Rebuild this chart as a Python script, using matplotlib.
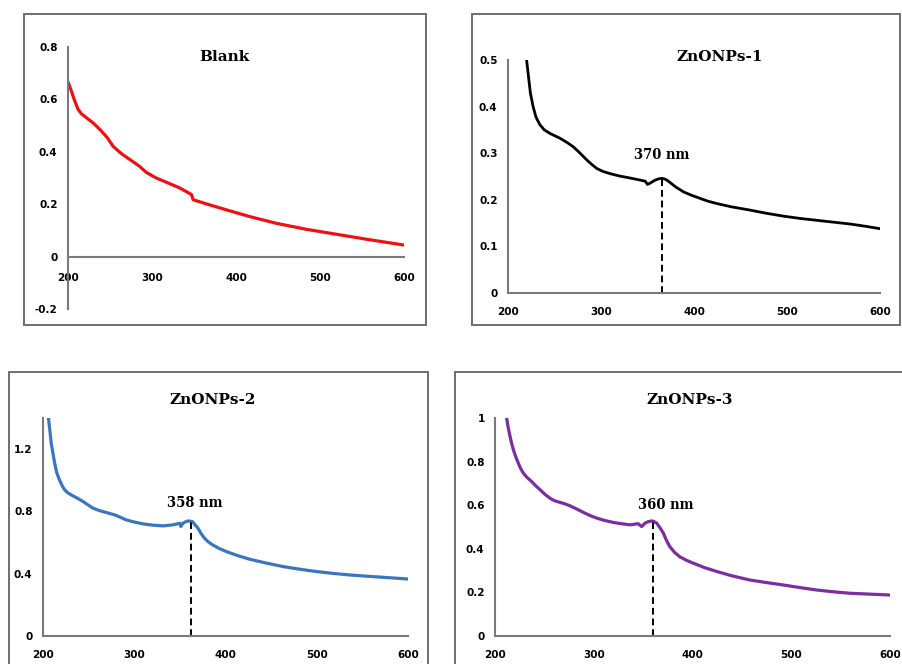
import matplotlib
matplotlib.use("Agg")
import matplotlib.pyplot as plt
from matplotlib.patches import Rectangle

# ---------------- data ----------------
blank_x = [200, 204, 208, 212, 216, 222, 230, 238, 246, 254, 264, 273, 285, 293, 305, 317, 333, 347,
           349, 365, 389, 416, 448, 484, 520, 556, 600]
blank_y = [0.667, 0.632, 0.594, 0.562, 0.545, 0.530, 0.510, 0.485, 0.457, 0.420, 0.392, 0.372, 0.345,
           0.322, 0.300, 0.284, 0.262, 0.237, 0.217, 0.201, 0.178, 0.153, 0.127, 0.104, 0.085, 0.066, 0.044]

zn1_x = [220, 222, 224, 227, 230, 234, 239, 245.5, 256, 265, 270, 276, 285, 290, 295.6, 302, 310, 320,
         328, 338, 347.5, 350, 353, 358, 362, 365.4, 368, 371, 375, 380, 388.7, 397, 406.6, 415, 424.5,
         440, 460, 478, 496, 514, 532, 550, 568, 585, 600]
zn1_y = [0.500, 0.465, 0.430, 0.400, 0.378, 0.362, 0.350, 0.342, 0.332, 0.321, 0.314, 0.303, 0.285,
         0.276, 0.267, 0.261, 0.256, 0.251, 0.248, 0.244, 0.240, 0.233, 0.236, 0.242, 0.245, 0.246,
         0.245, 0.242, 0.236, 0.228, 0.217, 0.210, 0.203, 0.197, 0.192, 0.185, 0.178, 0.171, 0.165,
         0.160, 0.156, 0.152, 0.148, 0.143, 0.138]

zn2_x = [206, 207.5, 209, 211, 212.8, 215, 218, 221, 223.7, 227, 231, 237, 243.8, 249, 254.8, 262,
         269.4, 278.5, 285, 291, 300, 309.6, 320, 331.5, 342.5, 350, 351, 353.4, 356, 359, 363.7, 366.5,
         369.9, 373, 377, 381, 386, 393, 401, 413, 426.5, 445, 463, 480, 499.5, 518, 536, 555, 572.6, 600]
zn2_y = [1.399, 1.320, 1.239, 1.170, 1.110, 1.050, 1.003, 0.965, 0.939, 0.920, 0.906, 0.887, 0.864,
         0.843, 0.821, 0.805, 0.793, 0.778, 0.762, 0.746, 0.732, 0.720, 0.712, 0.707, 0.714, 0.724,
         0.703, 0.724, 0.733, 0.739, 0.735, 0.715, 0.692, 0.660, 0.628, 0.605, 0.585, 0.562, 0.542,
         0.517, 0.493, 0.468, 0.446, 0.430, 0.414, 0.402, 0.392, 0.384, 0.377, 0.366]

zn3_x = [211.8, 213, 214.5, 216.5, 218.6, 221, 223.6, 226, 228.7, 232.5, 237, 241, 245.6, 250.5, 255.7,
         260.5, 265.8, 271, 276, 283, 289.5, 296, 303, 311, 319.8, 328, 336.7, 345, 348.5, 352, 355,
         358.6, 361, 363.7, 367, 370.5, 373.5, 377, 382, 387, 393.5, 400.8, 412, 424.5, 440, 458, 475,
         492, 509, 525.7, 542, 559.5, 580, 600]
zn3_y = [1.000, 0.965, 0.931, 0.890, 0.855, 0.822, 0.793, 0.768, 0.747, 0.727, 0.709, 0.690, 0.671,
         0.650, 0.632, 0.620, 0.613, 0.606, 0.597, 0.582, 0.567, 0.553, 0.541, 0.530, 0.521, 0.515,
         0.510, 0.515, 0.502, 0.518, 0.524, 0.528, 0.525, 0.518, 0.497, 0.472, 0.440, 0.410, 0.383,
         0.364, 0.348, 0.334, 0.314, 0.296, 0.276, 0.257, 0.245, 0.234, 0.222, 0.211, 0.203, 0.196,
         0.192, 0.188]

titles = ["Blank", "ZnONPs-1", "ZnONPs-2", "ZnONPs-3"]
peak_labels = [None, "370 nm", "358 nm", "360 nm"]
peak_x = [None, 365.4, 362.6, 360.3]
peak_y = [None, 0.246, 0.737, 0.528]
x_ticks = [200, 300, 400, 500, 600]
y_ticks_list = [[-0.2, 0, 0.2, 0.4, 0.6, 0.8],
                [0, 0.1, 0.2, 0.3, 0.4, 0.5],
                [0, 0.4, 0.8, 1.2],
                [0, 0.2, 0.4, 0.6, 0.8, 1]]
y_tick_labels = [["-0.2", "0", "0.2", "0.4", "0.6", "0.8"],
                 ["0", "0.1", "0.2", "0.3", "0.4", "0.5"],
                 ["0", "0.4", "0.8", "1.2"],
                 ["0", "0.2", "0.4", "0.6", "0.8", "1"]]
ylims = [(-0.2, 0.8), (0, 0.5), (0, 1.4), (0, 1.0)]

series_x = [blank_x, zn1_x, zn2_x, zn3_x]
series_y = [blank_y, zn1_y, zn2_y, zn3_y]
colors = ["#ee1111", "#000000", "#3a76c0", "#7a2ea0"]

# ---------------- layout ----------------
W, H = 902, 664
fig = plt.figure(figsize=(W / 100, H / 100), dpi=100)

def px_rect(l, t, r, b):
    return [l / W, 1 - b / H, (r - l) / W, (b - t) / H]

axes_px = [(68, 47, 404, 309), (508, 60, 880, 293), (43, 418, 408, 636), (495, 418, 890, 636)]
frames_px = [(24, 14, 426, 325), (472, 14, 900, 325), (9, 372, 428, 700), (455, 372, 960, 700)]
title_pos = [(0.467, 0.962), (0.57, 1.015), (0.466, 1.083), (0.494, 1.083)]
label_pos = [None, (365.6, 0.296), (366.6, 0.854), (373.0, 0.601)]

spine_col = "#7a7a7a"
tick_font = dict(family="DejaVu Sans", weight="bold", size=7.5)

for (l, t, r, b) in frames_px:
    fig.patches.append(Rectangle((l / W, 1 - b / H), (r - l) / W, (b - t) / H,
                                 transform=fig.transFigure, fill=False,
                                 edgecolor="#6e6e6e", linewidth=1.4))

for i in range(4):
    ax = fig.add_axes(px_rect(*axes_px[i]))
    ax.plot(series_x[i], series_y[i], color=colors[i], linewidth=2.3 if i != 1 else 2.0,
            solid_joinstyle="round", solid_capstyle="round")
    ax.set_xlim(200, 600)
    ax.set_ylim(*ylims[i])
    for s in ["top", "right"]:
        ax.spines[s].set_visible(False)
    ax.spines["left"].set_color(spine_col)
    ax.spines["bottom"].set_color(spine_col)
    ax.spines["left"].set_linewidth(1.5)
    ax.spines["bottom"].set_linewidth(1.5)
    if i == 0:
        ax.spines["bottom"].set_position(("data", 0))
    ax.set_xticks(x_ticks)
    ax.set_xticklabels([str(v) for v in x_ticks], **tick_font)
    ax.set_yticks(y_ticks_list[i])
    ax.set_yticklabels(y_tick_labels[i], **tick_font)
    ax.tick_params(axis="x", length=0, pad=10 if i != 0 else 12)
    ax.tick_params(axis="y", length=0, pad=7.5)
    ax.patch.set_alpha(0)
    ax.text(title_pos[i][0], title_pos[i][1], titles[i], transform=ax.transAxes,
            ha="center", va="center", family="DejaVu Serif", weight="bold", fontsize=11)
    if peak_labels[i]:
        ax.plot([peak_x[i], peak_x[i]], [0, peak_y[i]], color="black", linestyle=(0, (3.5, 2)),
                linewidth=1.4)
        ax.text(label_pos[i][0], label_pos[i][1], peak_labels[i], ha="center", va="center",
                family="DejaVu Serif", weight="bold", fontsize=10.5, stretch="condensed")

fig.savefig("out.png", dpi=100)
